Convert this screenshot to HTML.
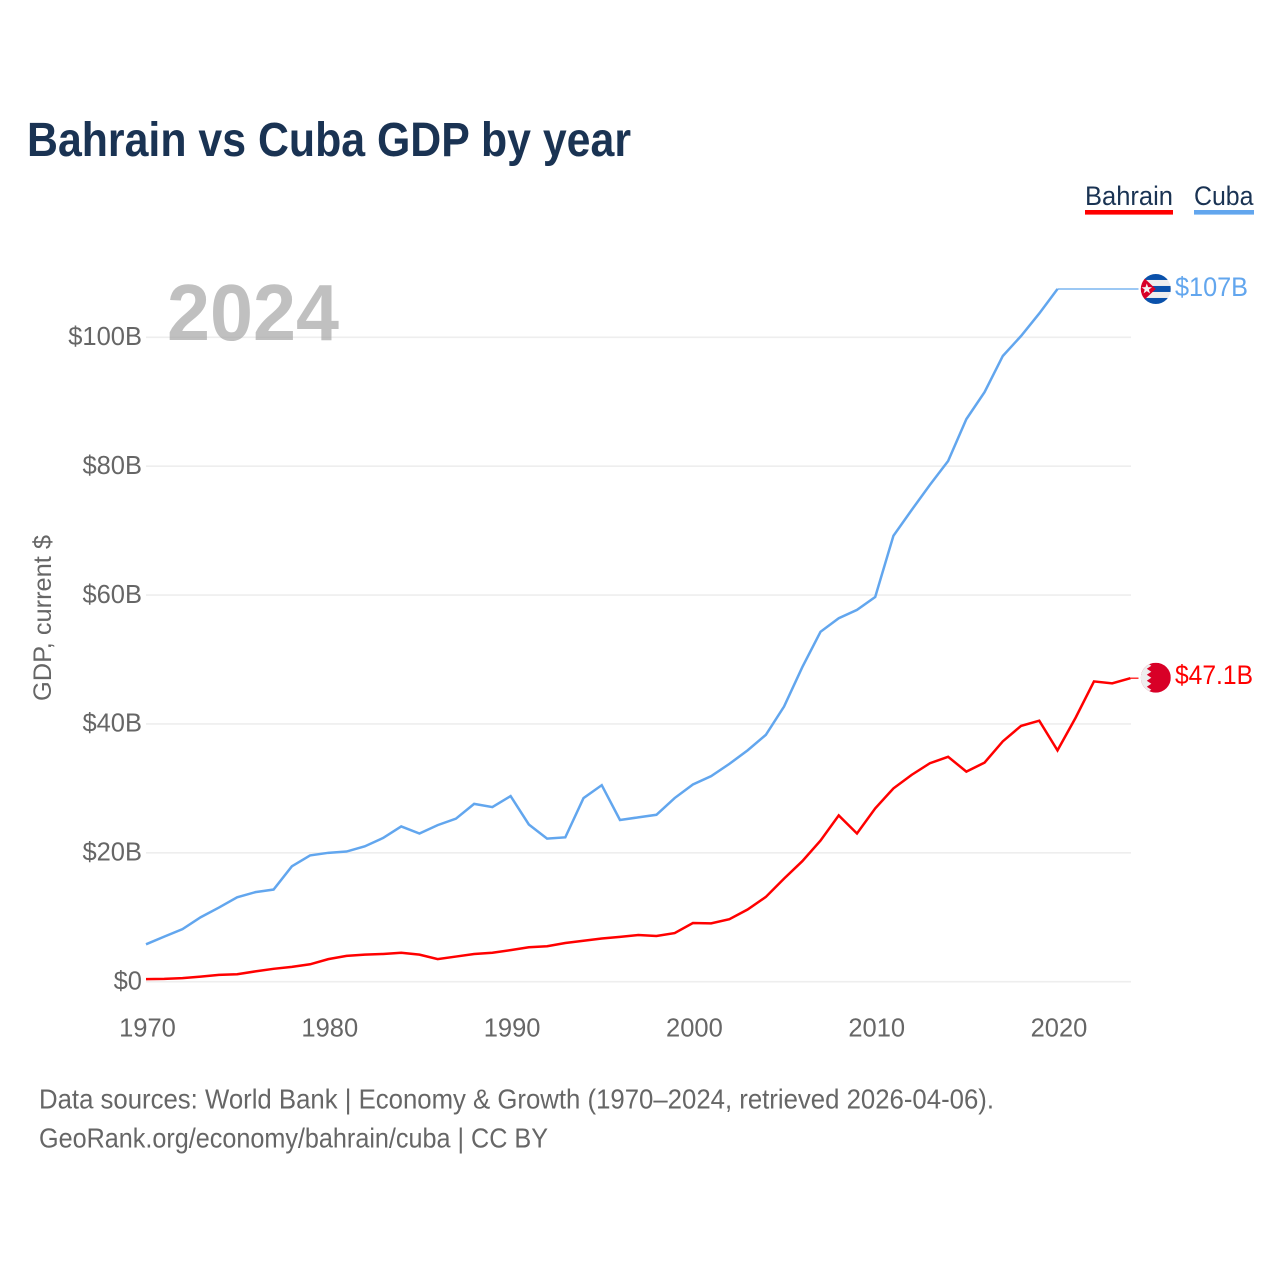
<!DOCTYPE html>
<html lang="en">
<head>
<meta charset="utf-8">
<title>Bahrain vs Cuba GDP by year</title>
<style>
html,body{margin:0;padding:0;background:#fff;width:1280px;height:1280px;overflow:hidden}
svg{display:block;font-family:"Liberation Sans",sans-serif}
</style>
</head>
<body>
<svg id="chart" width="1280" height="1280" viewBox="0 0 1280 1280" xmlns="http://www.w3.org/2000/svg">
  <defs>
    <clipPath id="flag-clip"><circle cx="0" cy="0" r="15"/></clipPath>
  </defs>
  <rect width="1280" height="1280" fill="#fff"/>
  <text x="27" y="156" font-size="48" font-weight="700" fill="#1a3353" textLength="604" lengthAdjust="spacingAndGlyphs">Bahrain vs Cuba GDP by year</text>

  <g id="grid"></g>
  <g id="y-ticks"></g>
  <g id="x-ticks"></g>

  <text x="167" y="340" font-size="80" font-weight="700" fill="#a8a8a8" fill-opacity="0.72" textLength="172" lengthAdjust="spacingAndGlyphs">2024</text>
  <text transform="translate(51,701) rotate(-90)" font-size="25" fill="#666" textLength="166" lengthAdjust="spacingAndGlyphs">GDP, current $</text>

  <g>
    <text x="1085" y="205" font-size="26.5" fill="#1a3353" textLength="88" lengthAdjust="spacingAndGlyphs">Bahrain</text>
    <rect x="1085" y="210" width="88" height="4.6" fill="#ff0000"/>
  </g>
  <g>
    <text x="1194" y="205" font-size="26.5" fill="#1a3353" textLength="59.5" lengthAdjust="spacingAndGlyphs">Cuba</text>
    <rect x="1194" y="210" width="60" height="4.6" fill="#62a6ee"/>
  </g>

  <g id="series"></g>

  <g id="flag-cuba">
    <g clip-path="url(#flag-clip)">
      <rect x="-15" y="-15" width="30" height="30" fill="#eeeeee"/>
      <rect x="-15" y="-15" width="30" height="6" fill="#0a51ab"/>
      <rect x="-15" y="-3" width="30" height="6" fill="#0a51ab"/>
      <rect x="-15" y="9" width="30" height="6" fill="#0a51ab"/>
      <polygon points="-16,-15 0,0 -16,15" fill="#d80027"/>
      <polygon points="-9,-5.5 -7.7,-1.8 -3.8,-1.7 -6.9,0.7 -5.8,4.4 -9,2.2 -12.2,4.4 -11.1,0.7 -14.2,-1.7 -10.3,-1.8" fill="#f3f3f3"/>
    </g>
  </g>
  <g id="flag-bahrain">
    <g clip-path="url(#flag-clip)">
      <rect x="-15" y="-15" width="30" height="30" fill="#d80027"/>
      <polygon points="-15,-15 -9,-15 -4.5,-12 -9,-9 -4.5,-6 -9,-3 -4.5,0 -9,3 -4.5,6 -9,9 -4.5,12 -9,15 -15,15" fill="#eeeeee"/>
    </g>
  </g>
  <text id="label-cuba" x="1175" y="296" font-size="26.5" fill="#62a6ee" textLength="73" lengthAdjust="spacingAndGlyphs">$107B</text>
  <text id="label-bahrain" x="1175" y="684" font-size="26.5" fill="#ff0000" textLength="78" lengthAdjust="spacingAndGlyphs">$47.1B</text>

  <text x="39" y="1108.5" font-size="28" fill="#666" textLength="955" lengthAdjust="spacingAndGlyphs">Data sources: World Bank | Economy &amp; Growth (1970–2024, retrieved 2026-04-06).</text>
  <text x="39" y="1147.5" font-size="28" fill="#666" textLength="509" lengthAdjust="spacingAndGlyphs">GeoRank.org/economy/bahrain/cuba | CC BY</text>
</svg>
<script>
const startYear = 1970;
const bahrainGdp = [0.4,0.43,0.55,0.78,1.05,1.15,1.6,2.0,2.3,2.7,3.5,4.0,4.2,4.3,4.5,4.2,3.5,3.9,4.3,4.5,4.9,5.35,5.5,6.0,6.35,6.7,6.95,7.25,7.1,7.55,9.1,9.05,9.7,11.2,13.15,16.0,18.7,21.9,25.8,23.0,26.9,30.0,32.1,33.9,34.9,32.6,34.0,37.3,39.7,40.5,35.9,41.0,46.6,46.3,47.1];
const cubaGdp = [5.8,7.0,8.15,10.0,11.5,13.1,13.9,14.3,17.9,19.6,20.0,20.2,21.0,22.3,24.1,23.0,24.3,25.3,27.6,27.1,28.8,24.4,22.2,22.4,28.5,30.5,25.1,25.5,25.9,28.5,30.6,31.9,33.8,35.9,38.3,42.7,48.8,54.3,56.4,57.7,59.7,69.2,73.2,77.1,80.8,87.3,91.5,97.1,100.2,103.7,107.5];
const yTickValues = [0,20,40,60,80,100];
const yTickLabels = ["$0","$20B","$40B","$60B","$80B","$100B"];
const xTickValues = [1970,1980,1990,2000,2010,2020];

const NS = "http://www.w3.org/2000/svg";
const xScale = function (year) { return 146 + (year - 1970) * 18.23; };
const yScale = function (v) { return 981.7 - v * 6.444; };
const make = function (tag, attrs, parent) {
  const el = document.createElementNS(NS, tag);
  Object.keys(attrs).forEach(function (k) { el.setAttribute(k, attrs[k]); });
  parent.appendChild(el);
  return el;
};

const gridG = document.getElementById("grid");
const yG = document.getElementById("y-ticks");
yTickValues.forEach(function (v, i) {
  const line = make("line", {x1: 146, x2: 1131, y1: yScale(v), y2: yScale(v), stroke: "#eeeeee", "stroke-width": 1.6}, gridG);
  
  
  const label = make("text", {x: 142, y: yScale(v) + 7.8, "text-anchor": "end", "font-size": 25.5, fill: "#666"}, yG);
  
  
  label.textContent = yTickLabels[i];
});

const xG = document.getElementById("x-ticks");
xTickValues.forEach(function (year) {
  const label = make("text", {x: xScale(year) + 1.5, y: 1036.5, "text-anchor": "middle", "font-size": 25.5, fill: "#666"}, xG);
  
  
  label.textContent = String(year);
});

const seriesG = document.getElementById("series");
const linePoints = function (values) {
  return values.map(function (v, i) { return xScale(startYear + i).toFixed(2) + "," + yScale(v).toFixed(2); }).join(" ");
};
const flagX = 1155.8;
const connectorEndX = 1138.5;

const cubaLast = cubaGdp[cubaGdp.length - 1];
const cubaLastX = xScale(startYear + cubaGdp.length - 1);
const cubaConnector = make("line", {x1: cubaLastX, x2: connectorEndX, y1: yScale(cubaLast), y2: yScale(cubaLast), stroke: "#62a6ee", "stroke-width": 1.2}, seriesG);


const cubaLine = make("polyline", {points: linePoints(cubaGdp), fill: "none", stroke: "#62a6ee", "stroke-width": 2.5, "stroke-linejoin": "miter"}, seriesG);



const bahrainLast = bahrainGdp[bahrainGdp.length - 1];
const bahrainLastX = xScale(startYear + bahrainGdp.length - 1);
const bahrainConnector = make("line", {x1: bahrainLastX, x2: connectorEndX, y1: yScale(bahrainLast), y2: yScale(bahrainLast), stroke: "#ff0000", "stroke-width": 1.2}, seriesG);


const bahrainLine = make("polyline", {points: linePoints(bahrainGdp), fill: "none", stroke: "#ff0000", "stroke-width": 2.5, "stroke-linejoin": "miter"}, seriesG);



document.getElementById("flag-cuba").setAttribute("transform", "translate(" + flagX + "," + yScale(cubaLast) + ")");
document.getElementById("flag-bahrain").setAttribute("transform", "translate(" + flagX + "," + (yScale(bahrainLast) - 0.5) + ")");
document.getElementById("label-cuba").setAttribute("y", yScale(cubaLast) + 7);
document.getElementById("label-bahrain").setAttribute("y", yScale(bahrainLast) + 6);
</script>
</body>
</html>
